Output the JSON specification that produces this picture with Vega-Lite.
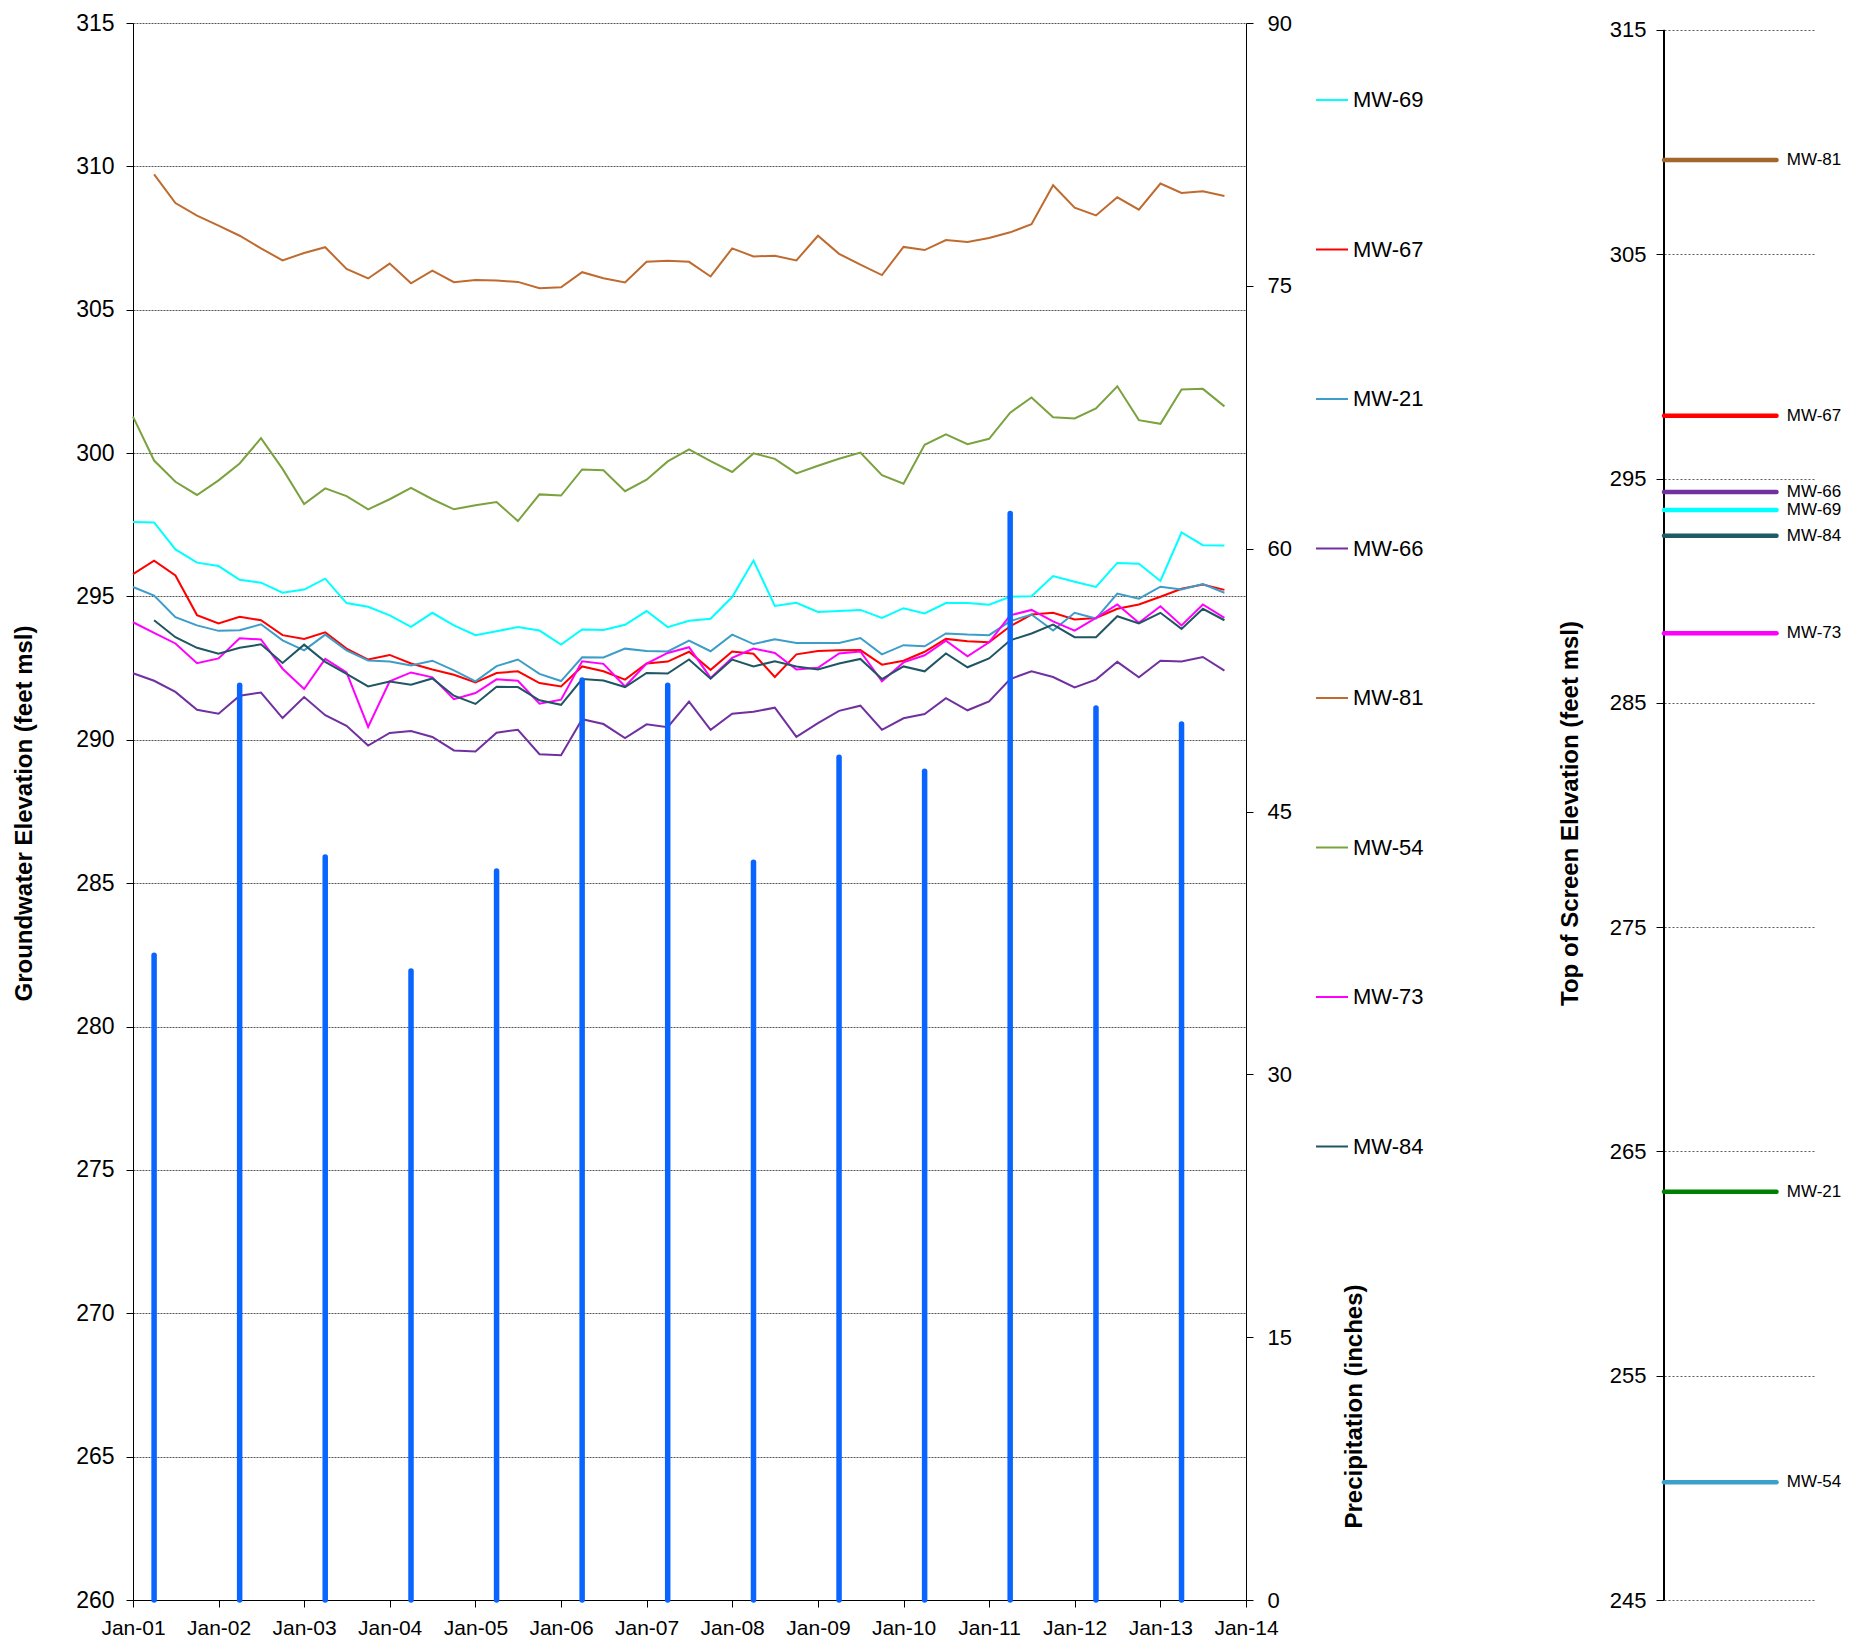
{
  "$schema": "https://vega.github.io/schema/vega-lite/v6.json",
  "background": "white",
  "padding": {"left": 12, "top": 12, "right": 5, "bottom": 5},
  "bounds": "flush",
  "spacing": 418,
  "config": {
    "font": "Liberation Sans",
    "view": {"stroke": null},
    "axis": {"labelColor": "black", "titleColor": "black", "domainColor": "black", "tickColor": "black", "labelFont": "Liberation Sans", "titleFont": "Liberation Sans"}
  },
  "datasets": {
    "wells": [
      {"date":"2001-01-01","well":"MW-69","elev":297.60},{"date":"2001-04-01","well":"MW-69","elev":297.58},{"date":"2001-07-01","well":"MW-69","elev":296.64},{"date":"2001-10-01","well":"MW-69","elev":296.18},
      {"date":"2002-01-01","well":"MW-69","elev":296.06},{"date":"2002-04-01","well":"MW-69","elev":295.58},{"date":"2002-07-01","well":"MW-69","elev":295.48},{"date":"2002-10-01","well":"MW-69","elev":295.13},
      {"date":"2003-01-01","well":"MW-69","elev":295.24},{"date":"2003-04-01","well":"MW-69","elev":295.62},{"date":"2003-07-01","well":"MW-69","elev":294.77},{"date":"2003-10-01","well":"MW-69","elev":294.64},
      {"date":"2004-01-01","well":"MW-69","elev":294.34},{"date":"2004-04-01","well":"MW-69","elev":293.94},{"date":"2004-07-01","well":"MW-69","elev":294.43},{"date":"2004-10-01","well":"MW-69","elev":293.99},
      {"date":"2005-01-01","well":"MW-69","elev":293.65},{"date":"2005-04-01","well":"MW-69","elev":293.79},{"date":"2005-07-01","well":"MW-69","elev":293.93},{"date":"2005-10-01","well":"MW-69","elev":293.81},
      {"date":"2006-01-01","well":"MW-69","elev":293.32},{"date":"2006-04-01","well":"MW-69","elev":293.85},{"date":"2006-07-01","well":"MW-69","elev":293.83},{"date":"2006-10-01","well":"MW-69","elev":294.01},
      {"date":"2007-01-01","well":"MW-69","elev":294.49},{"date":"2007-04-01","well":"MW-69","elev":293.93},{"date":"2007-07-01","well":"MW-69","elev":294.15},{"date":"2007-10-01","well":"MW-69","elev":294.22},
      {"date":"2008-01-01","well":"MW-69","elev":294.98},{"date":"2008-04-01","well":"MW-69","elev":296.25},{"date":"2008-07-01","well":"MW-69","elev":294.67},{"date":"2008-10-01","well":"MW-69","elev":294.78},
      {"date":"2009-01-01","well":"MW-69","elev":294.46},{"date":"2009-04-01","well":"MW-69","elev":294.49},{"date":"2009-07-01","well":"MW-69","elev":294.53},{"date":"2009-10-01","well":"MW-69","elev":294.25},
      {"date":"2010-01-01","well":"MW-69","elev":294.59},{"date":"2010-04-01","well":"MW-69","elev":294.41},{"date":"2010-07-01","well":"MW-69","elev":294.77},{"date":"2010-10-01","well":"MW-69","elev":294.77},
      {"date":"2011-01-01","well":"MW-69","elev":294.71},{"date":"2011-04-01","well":"MW-69","elev":294.99},{"date":"2011-07-01","well":"MW-69","elev":295.01},{"date":"2011-10-01","well":"MW-69","elev":295.71},
      {"date":"2012-01-01","well":"MW-69","elev":295.51},{"date":"2012-04-01","well":"MW-69","elev":295.33},{"date":"2012-07-01","well":"MW-69","elev":296.17},{"date":"2012-10-01","well":"MW-69","elev":296.14},
      {"date":"2013-01-01","well":"MW-69","elev":295.54},{"date":"2013-04-01","well":"MW-69","elev":297.23},{"date":"2013-07-01","well":"MW-69","elev":296.79},{"date":"2013-10-01","well":"MW-69","elev":296.78},

      {"date":"2001-01-01","well":"MW-67","elev":295.78},{"date":"2001-04-01","well":"MW-67","elev":296.25},{"date":"2001-07-01","well":"MW-67","elev":295.73},{"date":"2001-10-01","well":"MW-67","elev":294.35},
      {"date":"2002-01-01","well":"MW-67","elev":294.06},{"date":"2002-04-01","well":"MW-67","elev":294.29},{"date":"2002-07-01","well":"MW-67","elev":294.17},{"date":"2002-10-01","well":"MW-67","elev":293.65},
      {"date":"2003-01-01","well":"MW-67","elev":293.52},{"date":"2003-04-01","well":"MW-67","elev":293.75},{"date":"2003-07-01","well":"MW-67","elev":293.18},{"date":"2003-10-01","well":"MW-67","elev":292.80},
      {"date":"2004-01-01","well":"MW-67","elev":292.96},{"date":"2004-04-01","well":"MW-67","elev":292.66},{"date":"2004-07-01","well":"MW-67","elev":292.45},{"date":"2004-10-01","well":"MW-67","elev":292.27},
      {"date":"2005-01-01","well":"MW-67","elev":292.00},{"date":"2005-04-01","well":"MW-67","elev":292.33},{"date":"2005-07-01","well":"MW-67","elev":292.39},{"date":"2005-10-01","well":"MW-67","elev":291.98},
      {"date":"2006-01-01","well":"MW-67","elev":291.86},{"date":"2006-04-01","well":"MW-67","elev":292.56},{"date":"2006-07-01","well":"MW-67","elev":292.39},{"date":"2006-10-01","well":"MW-67","elev":292.10},
      {"date":"2007-01-01","well":"MW-67","elev":292.66},{"date":"2007-04-01","well":"MW-67","elev":292.73},{"date":"2007-07-01","well":"MW-67","elev":293.07},{"date":"2007-10-01","well":"MW-67","elev":292.44},
      {"date":"2008-01-01","well":"MW-67","elev":293.08},{"date":"2008-04-01","well":"MW-67","elev":293.00},{"date":"2008-07-01","well":"MW-67","elev":292.19},{"date":"2008-10-01","well":"MW-67","elev":292.98},
      {"date":"2009-01-01","well":"MW-67","elev":293.10},{"date":"2009-04-01","well":"MW-67","elev":293.12},{"date":"2009-07-01","well":"MW-67","elev":293.13},{"date":"2009-10-01","well":"MW-67","elev":292.62},
      {"date":"2010-01-01","well":"MW-67","elev":292.76},{"date":"2010-04-01","well":"MW-67","elev":293.07},{"date":"2010-07-01","well":"MW-67","elev":293.52},{"date":"2010-10-01","well":"MW-67","elev":293.44},
      {"date":"2011-01-01","well":"MW-67","elev":293.40},{"date":"2011-04-01","well":"MW-67","elev":293.96},{"date":"2011-07-01","well":"MW-67","elev":294.37},{"date":"2011-10-01","well":"MW-67","elev":294.43},
      {"date":"2012-01-01","well":"MW-67","elev":294.20},{"date":"2012-04-01","well":"MW-67","elev":294.25},{"date":"2012-07-01","well":"MW-67","elev":294.57},{"date":"2012-10-01","well":"MW-67","elev":294.72},
      {"date":"2013-01-01","well":"MW-67","elev":294.99},{"date":"2013-04-01","well":"MW-67","elev":295.27},{"date":"2013-07-01","well":"MW-67","elev":295.42},{"date":"2013-10-01","well":"MW-67","elev":295.23},

      {"date":"2001-01-01","well":"MW-21","elev":295.33},{"date":"2001-04-01","well":"MW-21","elev":295.03},{"date":"2001-07-01","well":"MW-21","elev":294.28},{"date":"2001-10-01","well":"MW-21","elev":293.99},
      {"date":"2002-01-01","well":"MW-21","elev":293.80},{"date":"2002-04-01","well":"MW-21","elev":293.82},{"date":"2002-07-01","well":"MW-21","elev":294.03},{"date":"2002-10-01","well":"MW-21","elev":293.47},
      {"date":"2003-01-01","well":"MW-21","elev":293.12},{"date":"2003-04-01","well":"MW-21","elev":293.67},{"date":"2003-07-01","well":"MW-21","elev":293.12},{"date":"2003-10-01","well":"MW-21","elev":292.77},
      {"date":"2004-01-01","well":"MW-21","elev":292.73},{"date":"2004-04-01","well":"MW-21","elev":292.59},{"date":"2004-07-01","well":"MW-21","elev":292.76},{"date":"2004-10-01","well":"MW-21","elev":292.42},
      {"date":"2005-01-01","well":"MW-21","elev":292.04},{"date":"2005-04-01","well":"MW-21","elev":292.57},{"date":"2005-07-01","well":"MW-21","elev":292.80},{"date":"2005-10-01","well":"MW-21","elev":292.30},
      {"date":"2006-01-01","well":"MW-21","elev":292.05},{"date":"2006-04-01","well":"MW-21","elev":292.88},{"date":"2006-07-01","well":"MW-21","elev":292.87},{"date":"2006-10-01","well":"MW-21","elev":293.18},
      {"date":"2007-01-01","well":"MW-21","elev":293.10},{"date":"2007-04-01","well":"MW-21","elev":293.08},{"date":"2007-07-01","well":"MW-21","elev":293.46},{"date":"2007-10-01","well":"MW-21","elev":293.09},
      {"date":"2008-01-01","well":"MW-21","elev":293.67},{"date":"2008-04-01","well":"MW-21","elev":293.34},{"date":"2008-07-01","well":"MW-21","elev":293.51},{"date":"2008-10-01","well":"MW-21","elev":293.38},
      {"date":"2009-01-01","well":"MW-21","elev":293.38},{"date":"2009-04-01","well":"MW-21","elev":293.38},{"date":"2009-07-01","well":"MW-21","elev":293.55},{"date":"2009-10-01","well":"MW-21","elev":292.98},
      {"date":"2010-01-01","well":"MW-21","elev":293.30},{"date":"2010-04-01","well":"MW-21","elev":293.26},{"date":"2010-07-01","well":"MW-21","elev":293.71},{"date":"2010-10-01","well":"MW-21","elev":293.67},
      {"date":"2011-01-01","well":"MW-21","elev":293.65},{"date":"2011-04-01","well":"MW-21","elev":294.14},{"date":"2011-07-01","well":"MW-21","elev":294.37},{"date":"2011-10-01","well":"MW-21","elev":293.81},
      {"date":"2012-01-01","well":"MW-21","elev":294.43},{"date":"2012-04-01","well":"MW-21","elev":294.23},{"date":"2012-07-01","well":"MW-21","elev":295.10},{"date":"2012-10-01","well":"MW-21","elev":294.92},
      {"date":"2013-01-01","well":"MW-21","elev":295.34},{"date":"2013-04-01","well":"MW-21","elev":295.24},{"date":"2013-07-01","well":"MW-21","elev":295.43},{"date":"2013-10-01","well":"MW-21","elev":295.13},

      {"date":"2001-01-01","well":"MW-66","elev":292.32},{"date":"2001-04-01","well":"MW-66","elev":292.06},{"date":"2001-07-01","well":"MW-66","elev":291.67},{"date":"2001-10-01","well":"MW-66","elev":291.05},
      {"date":"2002-01-01","well":"MW-66","elev":290.91},{"date":"2002-04-01","well":"MW-66","elev":291.54},{"date":"2002-07-01","well":"MW-66","elev":291.65},{"date":"2002-10-01","well":"MW-66","elev":290.76},
      {"date":"2003-01-01","well":"MW-66","elev":291.49},{"date":"2003-04-01","well":"MW-66","elev":290.86},{"date":"2003-07-01","well":"MW-66","elev":290.49},{"date":"2003-10-01","well":"MW-66","elev":289.80},
      {"date":"2004-01-01","well":"MW-66","elev":290.24},{"date":"2004-04-01","well":"MW-66","elev":290.31},{"date":"2004-07-01","well":"MW-66","elev":290.10},{"date":"2004-10-01","well":"MW-66","elev":289.63},
      {"date":"2005-01-01","well":"MW-66","elev":289.59},{"date":"2005-04-01","well":"MW-66","elev":290.25},{"date":"2005-07-01","well":"MW-66","elev":290.35},{"date":"2005-10-01","well":"MW-66","elev":289.50},
      {"date":"2006-01-01","well":"MW-66","elev":289.46},{"date":"2006-04-01","well":"MW-66","elev":290.72},{"date":"2006-07-01","well":"MW-66","elev":290.55},{"date":"2006-10-01","well":"MW-66","elev":290.06},
      {"date":"2007-01-01","well":"MW-66","elev":290.54},{"date":"2007-04-01","well":"MW-66","elev":290.44},{"date":"2007-07-01","well":"MW-66","elev":291.33},{"date":"2007-10-01","well":"MW-66","elev":290.35},
      {"date":"2008-01-01","well":"MW-66","elev":290.91},{"date":"2008-04-01","well":"MW-66","elev":290.98},{"date":"2008-07-01","well":"MW-66","elev":291.12},{"date":"2008-10-01","well":"MW-66","elev":290.10},
      {"date":"2009-01-01","well":"MW-66","elev":290.58},{"date":"2009-04-01","well":"MW-66","elev":291.01},{"date":"2009-07-01","well":"MW-66","elev":291.19},{"date":"2009-10-01","well":"MW-66","elev":290.35},
      {"date":"2010-01-01","well":"MW-66","elev":290.75},{"date":"2010-04-01","well":"MW-66","elev":290.90},{"date":"2010-07-01","well":"MW-66","elev":291.45},{"date":"2010-10-01","well":"MW-66","elev":291.03},
      {"date":"2011-01-01","well":"MW-66","elev":291.34},{"date":"2011-04-01","well":"MW-66","elev":292.12},{"date":"2011-07-01","well":"MW-66","elev":292.39},{"date":"2011-10-01","well":"MW-66","elev":292.19},
      {"date":"2012-01-01","well":"MW-66","elev":291.83},{"date":"2012-04-01","well":"MW-66","elev":292.10},{"date":"2012-07-01","well":"MW-66","elev":292.72},{"date":"2012-10-01","well":"MW-66","elev":292.18},
      {"date":"2013-01-01","well":"MW-66","elev":292.76},{"date":"2013-04-01","well":"MW-66","elev":292.73},{"date":"2013-07-01","well":"MW-66","elev":292.89},{"date":"2013-10-01","well":"MW-66","elev":292.41},

      {"date":"2001-04-01","well":"MW-81","elev":309.72},{"date":"2001-07-01","well":"MW-81","elev":308.72},{"date":"2001-10-01","well":"MW-81","elev":308.28},
      {"date":"2002-01-01","well":"MW-81","elev":307.93},{"date":"2002-04-01","well":"MW-81","elev":307.58},{"date":"2002-07-01","well":"MW-81","elev":307.14},{"date":"2002-10-01","well":"MW-81","elev":306.72},
      {"date":"2003-01-01","well":"MW-81","elev":306.98},{"date":"2003-04-01","well":"MW-81","elev":307.18},{"date":"2003-07-01","well":"MW-81","elev":306.42},{"date":"2003-10-01","well":"MW-81","elev":306.09},
      {"date":"2004-01-01","well":"MW-81","elev":306.61},{"date":"2004-04-01","well":"MW-81","elev":305.92},{"date":"2004-07-01","well":"MW-81","elev":306.36},{"date":"2004-10-01","well":"MW-81","elev":305.96},
      {"date":"2005-01-01","well":"MW-81","elev":306.04},{"date":"2005-04-01","well":"MW-81","elev":306.02},{"date":"2005-07-01","well":"MW-81","elev":305.97},{"date":"2005-10-01","well":"MW-81","elev":305.75},
      {"date":"2006-01-01","well":"MW-81","elev":305.78},{"date":"2006-04-01","well":"MW-81","elev":306.31},{"date":"2006-07-01","well":"MW-81","elev":306.10},{"date":"2006-10-01","well":"MW-81","elev":305.95},
      {"date":"2007-01-01","well":"MW-81","elev":306.67},{"date":"2007-04-01","well":"MW-81","elev":306.71},{"date":"2007-07-01","well":"MW-81","elev":306.67},{"date":"2007-10-01","well":"MW-81","elev":306.16},
      {"date":"2008-01-01","well":"MW-81","elev":307.14},{"date":"2008-04-01","well":"MW-81","elev":306.86},{"date":"2008-07-01","well":"MW-81","elev":306.88},{"date":"2008-10-01","well":"MW-81","elev":306.72},
      {"date":"2009-01-01","well":"MW-81","elev":307.58},{"date":"2009-04-01","well":"MW-81","elev":306.95},{"date":"2009-07-01","well":"MW-81","elev":306.57},{"date":"2009-10-01","well":"MW-81","elev":306.21},
      {"date":"2010-01-01","well":"MW-81","elev":307.19},{"date":"2010-04-01","well":"MW-81","elev":307.08},{"date":"2010-07-01","well":"MW-81","elev":307.43},{"date":"2010-10-01","well":"MW-81","elev":307.36},
      {"date":"2011-01-01","well":"MW-81","elev":307.50},{"date":"2011-04-01","well":"MW-81","elev":307.70},{"date":"2011-07-01","well":"MW-81","elev":307.98},{"date":"2011-10-01","well":"MW-81","elev":309.34},
      {"date":"2012-01-01","well":"MW-81","elev":308.56},{"date":"2012-04-01","well":"MW-81","elev":308.29},{"date":"2012-07-01","well":"MW-81","elev":308.92},{"date":"2012-10-01","well":"MW-81","elev":308.49},
      {"date":"2013-01-01","well":"MW-81","elev":309.40},{"date":"2013-04-01","well":"MW-81","elev":309.07},{"date":"2013-07-01","well":"MW-81","elev":309.13},{"date":"2013-10-01","well":"MW-81","elev":308.97},

      {"date":"2001-01-01","well":"MW-54","elev":301.27},{"date":"2001-04-01","well":"MW-54","elev":299.74},{"date":"2001-07-01","well":"MW-54","elev":299.00},{"date":"2001-10-01","well":"MW-54","elev":298.54},
      {"date":"2002-01-01","well":"MW-54","elev":299.05},{"date":"2002-04-01","well":"MW-54","elev":299.64},{"date":"2002-07-01","well":"MW-54","elev":300.52},{"date":"2002-10-01","well":"MW-54","elev":299.45},
      {"date":"2003-01-01","well":"MW-54","elev":298.22},{"date":"2003-04-01","well":"MW-54","elev":298.77},{"date":"2003-07-01","well":"MW-54","elev":298.50},{"date":"2003-10-01","well":"MW-54","elev":298.04},
      {"date":"2004-01-01","well":"MW-54","elev":298.39},{"date":"2004-04-01","well":"MW-54","elev":298.79},{"date":"2004-07-01","well":"MW-54","elev":298.39},{"date":"2004-10-01","well":"MW-54","elev":298.04},
      {"date":"2005-01-01","well":"MW-54","elev":298.18},{"date":"2005-04-01","well":"MW-54","elev":298.29},{"date":"2005-07-01","well":"MW-54","elev":297.63},{"date":"2005-10-01","well":"MW-54","elev":298.56},
      {"date":"2006-01-01","well":"MW-54","elev":298.52},{"date":"2006-04-01","well":"MW-54","elev":299.43},{"date":"2006-07-01","well":"MW-54","elev":299.40},{"date":"2006-10-01","well":"MW-54","elev":298.67},
      {"date":"2007-01-01","well":"MW-54","elev":299.07},{"date":"2007-04-01","well":"MW-54","elev":299.71},{"date":"2007-07-01","well":"MW-54","elev":300.13},{"date":"2007-10-01","well":"MW-54","elev":299.72},
      {"date":"2008-01-01","well":"MW-54","elev":299.34},{"date":"2008-04-01","well":"MW-54","elev":299.99},{"date":"2008-07-01","well":"MW-54","elev":299.80},{"date":"2008-10-01","well":"MW-54","elev":299.29},
      {"date":"2009-01-01","well":"MW-54","elev":299.56},{"date":"2009-04-01","well":"MW-54","elev":299.80},{"date":"2009-07-01","well":"MW-54","elev":300.02},{"date":"2009-10-01","well":"MW-54","elev":299.23},
      {"date":"2010-01-01","well":"MW-54","elev":298.93},{"date":"2010-04-01","well":"MW-54","elev":300.29},{"date":"2010-07-01","well":"MW-54","elev":300.65},{"date":"2010-10-01","well":"MW-54","elev":300.31},
      {"date":"2011-01-01","well":"MW-54","elev":300.50},{"date":"2011-04-01","well":"MW-54","elev":301.41},{"date":"2011-07-01","well":"MW-54","elev":301.94},{"date":"2011-10-01","well":"MW-54","elev":301.25},
      {"date":"2012-01-01","well":"MW-54","elev":301.21},{"date":"2012-04-01","well":"MW-54","elev":301.56},{"date":"2012-07-01","well":"MW-54","elev":302.33},{"date":"2012-10-01","well":"MW-54","elev":301.15},
      {"date":"2013-01-01","well":"MW-54","elev":301.02},{"date":"2013-04-01","well":"MW-54","elev":302.22},{"date":"2013-07-01","well":"MW-54","elev":302.24},{"date":"2013-10-01","well":"MW-54","elev":301.63},

      {"date":"2001-01-01","well":"MW-73","elev":294.10},{"date":"2001-04-01","well":"MW-73","elev":293.73},{"date":"2001-07-01","well":"MW-73","elev":293.36},{"date":"2001-10-01","well":"MW-73","elev":292.67},
      {"date":"2002-01-01","well":"MW-73","elev":292.84},{"date":"2002-04-01","well":"MW-73","elev":293.54},{"date":"2002-07-01","well":"MW-73","elev":293.50},{"date":"2002-10-01","well":"MW-73","elev":292.48},
      {"date":"2003-01-01","well":"MW-73","elev":291.77},{"date":"2003-04-01","well":"MW-73","elev":292.82},{"date":"2003-07-01","well":"MW-73","elev":292.35},{"date":"2003-10-01","well":"MW-73","elev":290.45},
      {"date":"2004-01-01","well":"MW-73","elev":292.04},{"date":"2004-04-01","well":"MW-73","elev":292.35},{"date":"2004-07-01","well":"MW-73","elev":292.18},{"date":"2004-10-01","well":"MW-73","elev":291.42},
      {"date":"2005-01-01","well":"MW-73","elev":291.63},{"date":"2005-04-01","well":"MW-73","elev":292.11},{"date":"2005-07-01","well":"MW-73","elev":292.06},{"date":"2005-10-01","well":"MW-73","elev":291.26},
      {"date":"2006-01-01","well":"MW-73","elev":291.40},{"date":"2006-04-01","well":"MW-73","elev":292.74},{"date":"2006-07-01","well":"MW-73","elev":292.65},{"date":"2006-10-01","well":"MW-73","elev":291.86},
      {"date":"2007-01-01","well":"MW-73","elev":292.66},{"date":"2007-04-01","well":"MW-73","elev":293.03},{"date":"2007-07-01","well":"MW-73","elev":293.23},{"date":"2007-10-01","well":"MW-73","elev":292.16},
      {"date":"2008-01-01","well":"MW-73","elev":292.86},{"date":"2008-04-01","well":"MW-73","elev":293.18},{"date":"2008-07-01","well":"MW-73","elev":293.03},{"date":"2008-10-01","well":"MW-73","elev":292.45},
      {"date":"2009-01-01","well":"MW-73","elev":292.51},{"date":"2009-04-01","well":"MW-73","elev":293.01},{"date":"2009-07-01","well":"MW-73","elev":293.08},{"date":"2009-10-01","well":"MW-73","elev":292.04},
      {"date":"2010-01-01","well":"MW-73","elev":292.70},{"date":"2010-04-01","well":"MW-73","elev":292.95},{"date":"2010-07-01","well":"MW-73","elev":293.46},{"date":"2010-10-01","well":"MW-73","elev":292.91},
      {"date":"2011-01-01","well":"MW-73","elev":293.40},{"date":"2011-04-01","well":"MW-73","elev":294.34},{"date":"2011-07-01","well":"MW-73","elev":294.53},{"date":"2011-10-01","well":"MW-73","elev":294.13},
      {"date":"2012-01-01","well":"MW-73","elev":293.81},{"date":"2012-04-01","well":"MW-73","elev":294.25},{"date":"2012-07-01","well":"MW-73","elev":294.72},{"date":"2012-10-01","well":"MW-73","elev":294.08},
      {"date":"2013-01-01","well":"MW-73","elev":294.66},{"date":"2013-04-01","well":"MW-73","elev":293.99},{"date":"2013-07-01","well":"MW-73","elev":294.72},{"date":"2013-10-01","well":"MW-73","elev":294.25},

      {"date":"2001-04-01","well":"MW-84","elev":294.17},{"date":"2001-07-01","well":"MW-84","elev":293.58},{"date":"2001-10-01","well":"MW-84","elev":293.21},
      {"date":"2002-01-01","well":"MW-84","elev":293.00},{"date":"2002-04-01","well":"MW-84","elev":293.21},{"date":"2002-07-01","well":"MW-84","elev":293.33},{"date":"2002-10-01","well":"MW-84","elev":292.68},
      {"date":"2003-01-01","well":"MW-84","elev":293.32},{"date":"2003-04-01","well":"MW-84","elev":292.72},{"date":"2003-07-01","well":"MW-84","elev":292.30},{"date":"2003-10-01","well":"MW-84","elev":291.86},
      {"date":"2004-01-01","well":"MW-84","elev":292.03},{"date":"2004-04-01","well":"MW-84","elev":291.92},{"date":"2004-07-01","well":"MW-84","elev":292.14},{"date":"2004-10-01","well":"MW-84","elev":291.54},
      {"date":"2005-01-01","well":"MW-84","elev":291.25},{"date":"2005-04-01","well":"MW-84","elev":291.85},{"date":"2005-07-01","well":"MW-84","elev":291.84},{"date":"2005-10-01","well":"MW-84","elev":291.38},
      {"date":"2006-01-01","well":"MW-84","elev":291.22},{"date":"2006-04-01","well":"MW-84","elev":292.12},{"date":"2006-07-01","well":"MW-84","elev":292.07},{"date":"2006-10-01","well":"MW-84","elev":291.84},
      {"date":"2007-01-01","well":"MW-84","elev":292.33},{"date":"2007-04-01","well":"MW-84","elev":292.31},{"date":"2007-07-01","well":"MW-84","elev":292.80},{"date":"2007-10-01","well":"MW-84","elev":292.13},
      {"date":"2008-01-01","well":"MW-84","elev":292.80},{"date":"2008-04-01","well":"MW-84","elev":292.56},{"date":"2008-07-01","well":"MW-84","elev":292.74},{"date":"2008-10-01","well":"MW-84","elev":292.56},
      {"date":"2009-01-01","well":"MW-84","elev":292.45},{"date":"2009-04-01","well":"MW-84","elev":292.66},{"date":"2009-07-01","well":"MW-84","elev":292.82},{"date":"2009-10-01","well":"MW-84","elev":292.12},
      {"date":"2010-01-01","well":"MW-84","elev":292.56},{"date":"2010-04-01","well":"MW-84","elev":292.39},{"date":"2010-07-01","well":"MW-84","elev":293.01},{"date":"2010-10-01","well":"MW-84","elev":292.53},
      {"date":"2011-01-01","well":"MW-84","elev":292.84},{"date":"2011-04-01","well":"MW-84","elev":293.47},{"date":"2011-07-01","well":"MW-84","elev":293.71},{"date":"2011-10-01","well":"MW-84","elev":294.02},
      {"date":"2012-01-01","well":"MW-84","elev":293.58},{"date":"2012-04-01","well":"MW-84","elev":293.58},{"date":"2012-07-01","well":"MW-84","elev":294.31},{"date":"2012-10-01","well":"MW-84","elev":294.06},
      {"date":"2013-01-01","well":"MW-84","elev":294.43},{"date":"2013-04-01","well":"MW-84","elev":293.87},{"date":"2013-07-01","well":"MW-84","elev":294.57},{"date":"2013-10-01","well":"MW-84","elev":294.17}
    ],
    "precip": [
      {"date":"2001-04-01","precip":36.8},{"date":"2002-04-01","precip":52.2},{"date":"2003-04-01","precip":42.4},{"date":"2004-04-01","precip":35.9},
      {"date":"2005-04-01","precip":41.6},{"date":"2006-04-01","precip":52.5},{"date":"2007-04-01","precip":52.2},{"date":"2008-04-01","precip":42.1},
      {"date":"2009-04-01","precip":48.1},{"date":"2010-04-01","precip":47.3},{"date":"2011-04-01","precip":62.0},{"date":"2012-04-01","precip":50.9},
      {"date":"2013-04-01","precip":50.0}
    ],
    "screens": [
      {"well":"MW-81","elev":309.2},{"well":"MW-67","elev":297.8},{"well":"MW-66","elev":294.4},{"well":"MW-69","elev":293.6},
      {"well":"MW-84","elev":292.45},{"well":"MW-73","elev":288.1},{"well":"MW-21","elev":263.2},{"well":"MW-54","elev":250.25}
    ]
  },
  "hconcat": [
    {
      "width": 1113,
      "height": 1577,
      "layer": [
        {
          "data": {"name": "wells"},
          "mark": {"type": "line", "strokeWidth": 2},
          "encoding": {
            "x": {
              "field": "date", "type": "temporal",
              "scale": {"domain": [{"year": 2001, "month": 1, "date": 1}, {"year": 2014, "month": 1, "date": 1}]},
              "axis": {
                "title": null, "format": "%b-%y", "grid": false,
                "values": [{"year":2001,"month":1,"date":1},{"year":2002,"month":1,"date":1},{"year":2003,"month":1,"date":1},{"year":2004,"month":1,"date":1},{"year":2005,"month":1,"date":1},{"year":2006,"month":1,"date":1},{"year":2007,"month":1,"date":1},{"year":2008,"month":1,"date":1},{"year":2009,"month":1,"date":1},{"year":2010,"month":1,"date":1},{"year":2011,"month":1,"date":1},{"year":2012,"month":1,"date":1},{"year":2013,"month":1,"date":1},{"year":2014,"month":1,"date":1}],
                "labelFontSize": 21, "tickSize": 7, "labelPadding": 10, "labelFlush": false, "labelOverlap": false
              }
            },
            "y": {
              "field": "elev", "type": "quantitative",
              "scale": {"domain": [260, 315], "nice": false, "zero": false},
              "axis": {
                "title": "Groundwater Elevation (feet msl)",
                "values": [260,265,270,275,280,285,290,295,300,305,310,315],
                "grid": true, "gridColor": "#555555", "gridDash": [2, 1], "gridWidth": 1,
                "labelFontSize": 23, "tickSize": 7, "labelPadding": 12,
                "titleFontSize": 24, "titleFontWeight": "bold", "titleAngle": 270,
                "titleX": -109, "titleY": 790, "titleAlign": "center", "titleBaseline": "middle"
              }
            },
            "color": {
              "field": "well", "type": "nominal",
              "scale": {
                "domain": ["MW-69","MW-67","MW-21","MW-66","MW-81","MW-54","MW-73","MW-84"],
                "range": ["#00ffff","#ff0000","#3c9dc9","#7030a0","#bf6b2f","#7ba23f","#ff00ff","#1f5663"]
              },
              "legend": {
                "title": null, "orient": "none", "legendX": 1182, "legendY": 60,
                "direction": "vertical", "symbolType": "stroke", "symbolSize": 1024,
                "symbolStrokeWidth": 2, "labelFontSize": 22, "labelOffset": 4,
                "rowPadding": 121.5, "padding": 0, "labelColor": "black"
              }
            }
          }
        },
        {
          "data": {"name": "precip"},
          "mark": {"type": "rule", "strokeWidth": 5.5, "color": "#0a64ff", "strokeCap": "round"},
          "encoding": {
            "x": {"field": "date", "type": "temporal"},
            "y": {
              "field": "precip", "type": "quantitative",
              "scale": {"domain": [0, 90], "nice": false},
              "axis": {
                "orient": "right", "title": "Precipitation (inches)",
                "values": [0, 15, 30, 45, 60, 75, 90], "grid": false,
                "labelFontSize": 22, "tickSize": 7, "labelPadding": 14,
                "titleFontSize": 24, "titleFontWeight": "bold", "titleAngle": 270,
                "titleX": 108, "titleY": 1383, "titleAlign": "center", "titleBaseline": "middle"
              }
            },
            "y2": {"datum": 0}
          }
        }
      ],
      "resolve": {"scale": {"y": "independent", "color": "independent"}}
    },
    {
      "width": 150,
      "height": 1577,
      "data": {"name": "screens"},
      "layer": [
        {
          "mark": {"type": "rule", "color": "black", "strokeWidth": 1},
          "encoding": {
            "x": {"datum": 0, "type": "quantitative", "scale": {"domain": [0, 150]}, "axis": null},
            "y": {
              "datum": 245, "type": "quantitative",
              "scale": {"domain": [245, 315.31], "nice": false, "zero": false},
              "axis": {
                "title": "Top of Screen Elevation (feet msl)", "domain": false,
                "values": [245, 255, 265, 275, 285, 295, 305, 315],
                "grid": true, "gridColor": "#333333", "gridDash": [2, 2], "gridWidth": 0.8,
                "labelFontSize": 22, "tickSize": 8, "labelPadding": 10,
                "titleFontSize": 24, "titleFontWeight": "bold", "titleAngle": 270,
                "titleX": -94, "titleY": 790, "titleAlign": "center", "titleBaseline": "middle"
              }
            },
            "y2": {"datum": 315}
          }
        },
        {
          "mark": {"type": "rule", "strokeWidth": 4.5, "strokeCap": "round"},
          "encoding": {
            "x": {"datum": 0, "type": "quantitative"},
            "x2": {"datum": 120},
            "y": {"field": "elev", "type": "quantitative"},
            "color": {
              "field": "well", "type": "nominal",
              "scale": {
                "domain": ["MW-81","MW-67","MW-66","MW-69","MW-84","MW-73","MW-21","MW-54"],
                "range": ["#a5652a","#ff0000","#7030a0","#00ffff","#1f5a66","#ff00ff","#008000","#3ca0cc"]
              },
              "legend": null
            }
          }
        },
        {
          "mark": {"type": "text", "align": "left", "baseline": "middle", "fontSize": 17, "color": "black"},
          "encoding": {
            "x": {"datum": 131, "type": "quantitative"},
            "y": {"field": "elev", "type": "quantitative"},
            "text": {"field": "well"}
          }
        }
      ]
    }
  ],
  "resolve": {"scale": {"color": "independent"}}
}
